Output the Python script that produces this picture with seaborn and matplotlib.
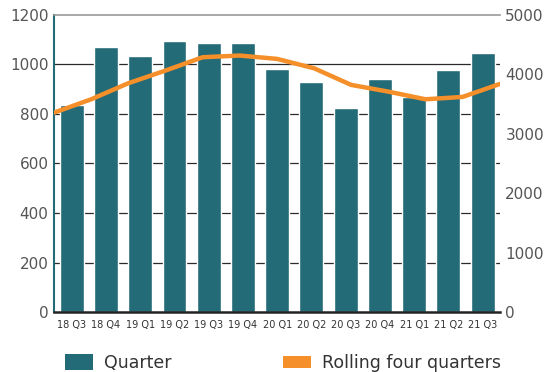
import matplotlib.pyplot as plt
import numpy as np
import pandas as pd
import seaborn as sns
from matplotlib.patches import Patch

quarters = ['18 Q3', '18 Q4', '19 Q1', '19 Q2', '19 Q3', '19 Q4', '20 Q1',
            '20 Q2', '20 Q3', '20 Q4', '21 Q1', '21 Q2', '21 Q3']
quarter_values = [836, 1071, 1034, 1095, 1087, 1087, 982, 929, 824, 941, 867, 978, 1046]
rolling_values = [3355, 3580, 3850, 4063, 4287, 4316, 4260, 4102, 3822, 3709, 3580, 3620, 3838]

teal = '#246b78'
orange = '#f58f2a'

df = pd.DataFrame({'quarter': quarters, 'value': quarter_values})

sns.set_style('white')
plt.rcParams['font.family'] = ['DejaVu Sans']

fig = plt.figure(figsize=(5.47, 3.72), dpi=100)
ax = fig.add_axes([0.0987, 0.161, 0.815, 0.799])

# Quarterly bars
sns.barplot(data=df, x='quarter', y='value', color=teal, saturation=1,
            width=0.7, ax=ax, zorder=2)
ax.set_xlim(-0.52, 12.5)
ax.set_ylim(0, 1200)
ax.set_yticks(range(0, 1201, 200))
ax.set_xlabel('')
ax.set_ylabel('')
for y in range(200, 1001, 200):
    ax.axhline(y, color='#2a2a2a', lw=0.9, zorder=1)
ax.tick_params(axis='y', labelsize=11, labelcolor='#555555', length=0, pad=4)
ax.tick_params(axis='x', labelsize=7, labelcolor='#333333', length=0, pad=6)
ax.spines['left'].set_color(teal)
ax.spines['left'].set_linewidth(1.5)
ax.spines['top'].set_color('#999999')
ax.spines['top'].set_linewidth(1.2)
ax.spines['bottom'].set_color('#222222')
ax.spines['bottom'].set_linewidth(1.8)
ax.spines['right'].set_visible(False)

# Rolling four quarters line on an overlay axis spanning the full width
ax2 = fig.add_axes(ax.get_position(), frameon=False)
sns.lineplot(x=np.arange(len(rolling_values)), y=rolling_values, color=orange,
             lw=3.2, ax=ax2, zorder=3)
ax2.set_xlim(0, len(rolling_values) - 1)
ax2.set_ylim(0, 5000)
ax2.set_xticks([])
ax2.yaxis.tick_right()
ax2.set_yticks(range(0, 5001, 1000))
ax2.tick_params(axis='y', labelsize=11, labelcolor='#555555', length=0, pad=4)
ax2.spines['right'].set_visible(True)
ax2.spines['right'].set_color(orange)
ax2.spines['right'].set_linewidth(2)
for s in ['left', 'top', 'bottom']:
    ax2.spines[s].set_visible(False)

# Legend entries below the chart
leg_kw = dict(loc='lower left', frameon=False, fontsize=12.5, handlelength=1.6,
              handletextpad=0.65, borderpad=0, borderaxespad=0,
              labelcolor='#333333')
fig.legend([Patch(facecolor=teal, edgecolor='none')], ['Quarter'],
           bbox_to_anchor=(0.119, 0.0), handleheight=1.0, **leg_kw)
fig.legend([Patch(facecolor=orange, edgecolor='none')], ['Rolling four quarters'],
           bbox_to_anchor=(0.517, 0.0), handleheight=0.75, **leg_kw)

fig.savefig('out.png', dpi=100)
